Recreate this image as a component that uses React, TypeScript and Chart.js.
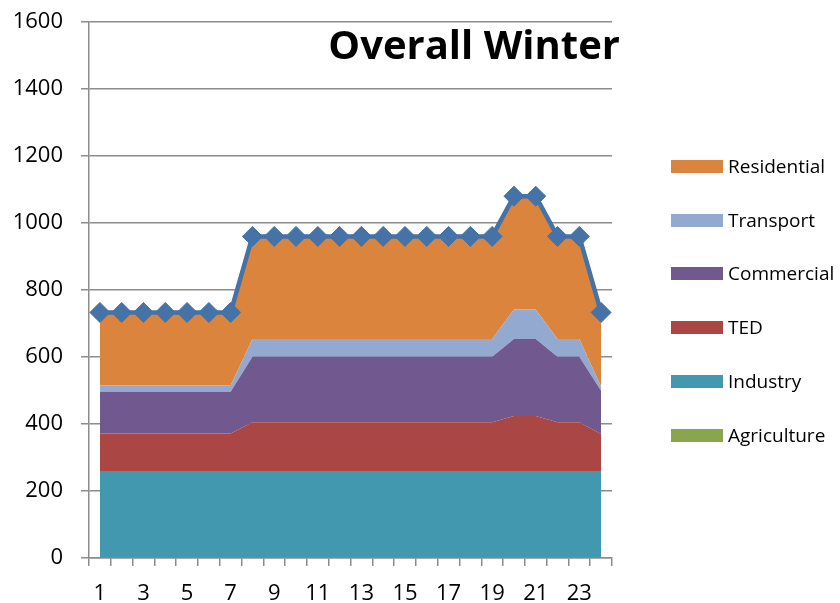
import React, { useEffect, useRef } from 'react';
import { Chart, registerables } from 'chart.js';

Chart.register(...registerables);

const titleText = 'Overall Winter';
const hours = ['1', '2', '3', '4', '5', '6', '7', '8', '9', '10', '11', '12', '13', '14', '15', '16', '17', '18', '19', '20', '21', '22', '23', '24'];

const agriculture = [1, 1, 1, 1, 1, 1, 1, 1, 1, 1, 1, 1, 1, 1, 1, 1, 1, 1, 1, 1, 1, 1, 1, 1];
const industry = [259, 259, 259, 259, 259, 259, 259, 259, 259, 259, 259, 259, 259, 259, 259, 259, 259, 259, 259, 259, 259, 259, 259, 259];
const ted = [112, 112, 112, 112, 112, 112, 112, 145, 145, 145, 145, 145, 145, 145, 145, 145, 145, 145, 145, 164, 164, 145, 145, 110];
const commercial = [124, 124, 124, 124, 124, 124, 124, 196, 196, 196, 196, 196, 196, 196, 196, 196, 196, 196, 196, 230, 230, 196, 196, 129];
const transport = [19, 19, 19, 19, 19, 19, 19, 53, 53, 53, 53, 53, 53, 53, 53, 53, 53, 53, 53, 88, 88, 53, 53, 12];
const residential = [218, 218, 218, 218, 218, 218, 218, 306, 306, 306, 306, 306, 306, 306, 306, 306, 306, 306, 306, 338, 338, 306, 306, 222];
const total = [733, 733, 733, 733, 733, 733, 733, 960, 960, 960, 960, 960, 960, 960, 960, 960, 960, 960, 960, 1080, 1080, 960, 960, 733];

const yTicks = [0, 200, 400, 600, 800, 1000, 1200, 1400, 1600];

const seriesNames = ['Agriculture', 'Industry', 'TED', 'Commercial', 'Transport', 'Residential'];
const seriesData = [agriculture, industry, ted, commercial, transport, residential];
const seriesColors = ['#89A54E', '#4198AF', '#AA4643', '#71588F', '#93A9CF', '#DB843D'];
const totalColor = '#4572A7';

const GRID = '#8c8c8c';
const FONT = '"Open Sans", "DejaVu Sans", sans-serif';

const titlePlugin = {
  id: 'cornerTitle',
  afterDraw(chart: any) {
    const { ctx, chartArea } = chart;
    ctx.save();
    ctx.font = `bold 40px ${FONT}`;
    ctx.fillStyle = '#000';
    ctx.textAlign = 'right';
    ctx.textBaseline = 'alphabetic';
    ctx.fillText(titleText, chartArea.right + 8, chartArea.top + 37);
    ctx.restore();
  },
};

export default function App() {
  const canvasRef = useRef<HTMLCanvasElement | null>(null);

  useEffect(() => {
    const canvas = canvasRef.current;
    if (!canvas) return;

    const areaSets = seriesNames.map((name, i) => ({
      label: name,
      data: seriesData[i],
      backgroundColor: seriesColors[i],
      borderColor: seriesColors[i],
      borderWidth: 0,
      pointRadius: 0,
      fill: i === 0 ? 'origin' : '-1',
      stack: 'areas',
      tension: 0,
    }));

    const chart = new Chart(canvas, {
      type: 'line',
      data: {
        labels: hours,
        datasets: [
          {
            label: 'Total',
            data: total,
            borderColor: totalColor,
            backgroundColor: totalColor,
            borderWidth: 4.5,
            pointStyle: 'rectRot',
            pointRadius: 10,
            pointBorderWidth: 1,
            pointBackgroundColor: totalColor,
            pointBorderColor: totalColor,
            fill: false,
            stack: 'total',
            tension: 0,
          },
          ...areaSets,
        ] as any,
      },
      options: {
        animation: false,
        responsive: false,
        maintainAspectRatio: false,
        layout: { padding: { left: 0, right: 228, top: 22, bottom: 0 } },
        plugins: {
          legend: { display: false },
          tooltip: { enabled: false },
          title: { display: false },
        },
        scales: {
          x: {
            type: 'category',
            offset: true,
            grid: {
              display: true,
              offset: true,
              drawOnChartArea: false,
              drawTicks: true,
              tickLength: 8,
              color: GRID,
              lineWidth: 1.5,
            },
            border: { display: true, color: GRID, width: 1.5 },
            ticks: {
              autoSkip: false,
              maxRotation: 0,
              minRotation: 0,
              padding: 15,
              color: '#000',
              font: { family: FONT, size: 22 },
              callback: (_v: any, i: number) => (i % 2 === 0 ? hours[i] : ''),
            },
            afterFit: (scale: any) => {
              scale.height = 45;
              scale.paddingLeft = 0;
              scale.paddingRight = 0;
            },
          },
          y: {
            stacked: true,
            min: yTicks[0],
            max: yTicks[yTicks.length - 1],
            grid: {
              display: true,
              drawTicks: true,
              tickLength: 8,
              color: GRID,
              lineWidth: 1.5,
            },
            border: { display: true, color: GRID, width: 1.5 },
            ticks: {
              stepSize: 200,
              padding: 18,
              color: '#000',
              font: { family: FONT, size: 22 },
              callback: (v: any) => String(v),
            },
            afterFit: (scale: any) => {
              scale.width = 89;
              scale.paddingTop = 0;
              scale.paddingBottom = 0;
            },
          },
        },
      } as any,
      plugins: [titlePlugin],
    });

    return () => chart.destroy();
  }, []);

  const legendOrder = seriesNames.map((_, i) => seriesNames.length - 1 - i);

  return (
    <div style={{ position: 'fixed', left: 0, top: 0, width: 840, height: 603, background: '#fff' }}>
      <canvas ref={canvasRef} width={840} height={603} style={{ display: 'block', width: 840, height: 603 }} />
      <div style={{ position: 'absolute', left: 671, top: 139.5, display: 'flex', flexDirection: 'column' }}>
        {legendOrder.map((idx) => (
          <div key={seriesNames[idx]} style={{ height: 53.8, display: 'flex', alignItems: 'center' }}>
            <span style={{ display: 'inline-block', width: 52, height: 13, background: seriesColors[idx] }} />
            <span style={{ marginLeft: 5, fontFamily: FONT, fontSize: 19, color: '#000', whiteSpace: 'nowrap', lineHeight: 1 }}>
              {seriesNames[idx]}
            </span>
          </div>
        ))}
      </div>
    </div>
  );
}
